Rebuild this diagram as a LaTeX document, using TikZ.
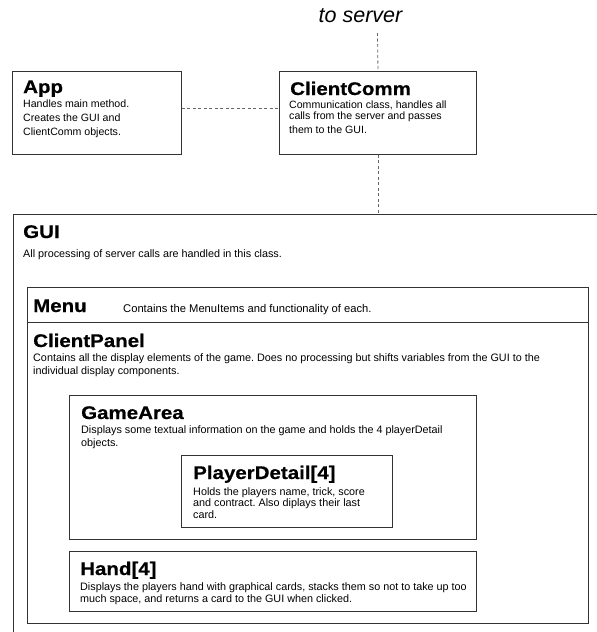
\documentclass[tikz,border=0pt]{standalone}
\usepackage{fontspec}
\setmainfont{Liberation Sans}
\newfontfamily\titlefont[FakeStretch=1.12,FakeBold=0.6]{Liberation Sans}
\frenchspacing
\begin{document}
\begin{tikzpicture}[x=1pt,y=-1pt,
  box/.style={draw=black!80, line width=0.95pt, inner sep=0pt, anchor=north west},
  ttl/.style={font=\titlefont\bfseries\fontsize{18.3}{20}\selectfont, anchor=base west, inner sep=0pt},
  txt/.style={font=\fontsize{10.8}{12.5}\selectfont, anchor=base west, inner sep=0pt},
  link/.style={draw=black!60, line width=0.8pt, dash pattern=on 3pt off 2.5pt}]
\useasboundingbox (0,0) rectangle (597,632);
\clip (0,0) rectangle (597,632);
% boxes
\node[box, minimum width=169pt, minimum height=83pt] (app) at (12,71) {};
\node[box, minimum width=197pt, minimum height=83pt] (cc) at (279,71) {};
\node[box, minimum width=620pt, minimum height=450pt] (gui) at (12.7,214) {};
\node[box, minimum width=561pt, minimum height=35pt] (menu) at (27,287) {};
\node[box, minimum width=561pt, minimum height=301pt] (panel) at (27,322) {};
\node[box, minimum width=407pt, minimum height=144pt] (game) at (69,395) {};
\node[box, minimum width=211pt, minimum height=72pt] (player) at (181,455) {};
\node[box, minimum width=407pt, minimum height=60pt] (hand) at (69,551) {};
% titles and texts
\node[anchor=base, inner sep=0pt, font=\itshape\fontsize{21.5}{24}\selectfont] (srv) at (360.5,22.5) {to server};
\node[ttl] (appt) at (23,93) {App};
\node[txt, font=\fontsize{10.6}{14}\selectfont] (appd) at (23,107) {\vtop{\hbox{Handles main method.}\hbox{Creates the GUI and}\hbox{ClientComm objects.}}};
\node[ttl] (cct) at (290,95) {ClientComm};
\node[txt, font=\fontsize{10.6}{11}\selectfont] (ccd) at (289,108) {\vtop{\hbox{Communication class, handles all}\hbox{calls from the server and passes}\vskip3pt\hbox{them to the GUI.}}};
\node[ttl] (guit) at (23,238) {GUI};
\node[txt] (guid) at (23,257) {All processing of server calls are handled in this class.};
\node[ttl] (menut) at (33,312) {Menu};
\node[txt, font=\fontsize{11.2}{13}\selectfont] (menud) at (123,312) {Contains the MenuItems and functionality of each.};
\node[ttl] (panelt) at (33,347) {ClientPanel};
\node[txt, font=\fontsize{10.8}{13}\selectfont] (paneld) at (33,361) {\vtop{\hbox{Contains all the display elements of the game. Does no processing but shifts variables from the GUI to the}\hbox{individual display components.}}};
\node[ttl] (gamet) at (81,419) {GameArea};
\node[txt, font=\fontsize{10.8}{13}\selectfont] (gamed) at (81,433) {\vtop{\hbox{Displays some textual information on the game and holds the 4 playerDetail}\hbox{objects.}}};
\node[ttl] (playert) at (193,479) {PlayerDetail[4]};
\node[txt, font=\fontsize{10.8}{11.7}\selectfont] (playerd) at (193,495) {\vtop{\hbox{Holds the players name, trick, score}\hbox{and contract. Also diplays their last}\hbox{card.}}};
\node[ttl] (handt) at (80,575) {Hand[4]};
\node[txt, font=\fontsize{10.8}{12}\selectfont] (handd) at (80,590.5) {\vtop{\hbox{Displays the players hand with graphical cards, stacks them so not to take up too}\hbox{much space, and returns a card to the GUI when clicked.}}};
% connectors
\coordinate (srvend) at (377.5,33);
\draw[link] (srvend) -- (cc.north);
\draw[link] (cc.south) -- (cc.south |- gui.north);
\draw[link] ([yshift=4.5pt]app.east) -- ([yshift=4.5pt]cc.west);
\end{tikzpicture}
\end{document}
